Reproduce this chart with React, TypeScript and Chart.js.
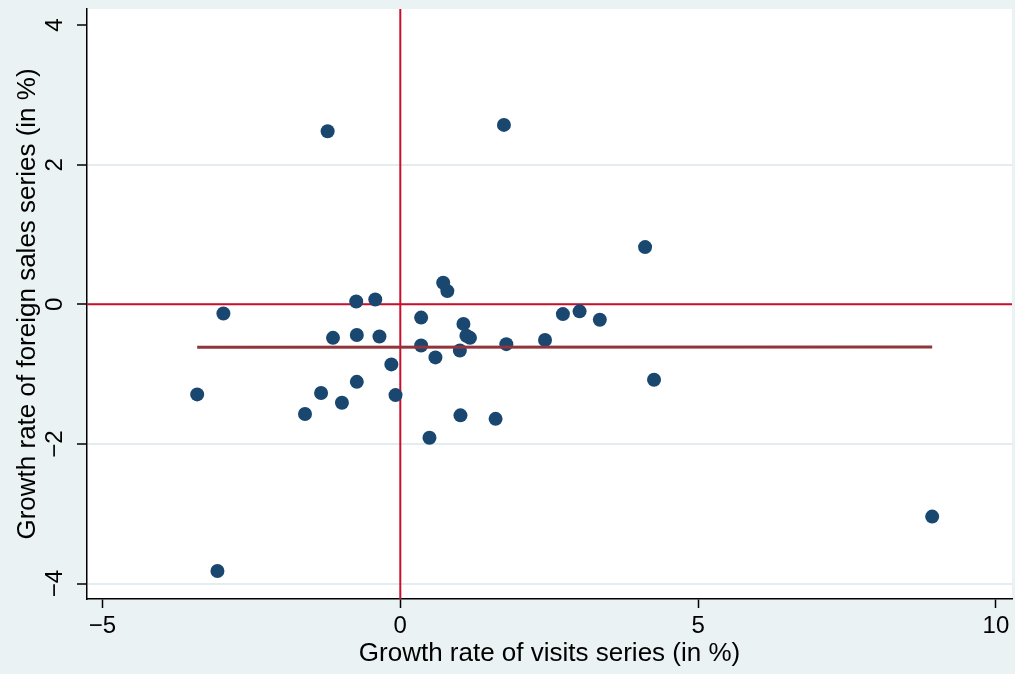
import React, { useEffect, useRef } from 'react';
import { Chart, registerables } from 'chart.js';

Chart.register(...registerables);

// Growth rate of visits series (in %)
const visitsGrowth = [
  -1.22, 1.74, 4.11, -2.97, -3.41, -3.07, 8.93, 4.26, 3.35, 3.01,
  2.73, 2.43, 1.78, 1.60, 1.01, 0.49, 0.72, 0.79, 0.35, 0.35,
  0.59, 1.06, 1.11, 1.17, 1.00, -0.74, -0.42, -0.73, -1.13, -0.35,
  -0.15, -0.08, -0.73, -1.33, -0.98, -1.60,
];
// Growth rate of foreign sales series (in %)
const salesGrowth = [
  2.48, 2.57, 0.82, -0.13, -1.29, -3.82, -3.04, -1.08, -0.22, -0.10,
  -0.14, -0.51, -0.57, -1.64, -1.59, -1.91, 0.31, 0.19, -0.19, -0.59,
  -0.76, -0.28, -0.45, -0.48, -0.66, 0.04, 0.07, -0.44, -0.48, -0.46,
  -0.86, -1.30, -1.11, -1.27, -1.41, -1.57,
];

// Linear fit line endpoints
const fitX = [-3.41, 8.93];
const fitY = [-0.615, -0.61];

const xTicks = [-5, 0, 5, 10];
const yTicks = [-4, -2, 0, 2, 4];
const xRange = [-5.26, 10.27];
const yRange = [-4.22, 4.23];
const xRefLine = 0;
const yRefLine = 0;

const xTitle = 'Growth rate of visits series (in %)';
const yTitle = 'Growth rate of foreign sales series (in %)';

const BG = '#EAF2F3';
const FONT = '"Liberation Sans", Arial, sans-serif';

const fmt = (v: number | string) => {
  const n = Number(v);
  return n < 0 ? '\u2212' + Math.abs(n) : String(n);
};

export default function App() {
  const ref = useRef<HTMLCanvasElement>(null);

  useEffect(() => {
    if (!ref.current) return;
    const bgPlugin = {
      id: 'bgAndRefLines',
      beforeDraw(chart: any) {
        const { ctx, chartArea: a, width, height } = chart;
        ctx.save();
        ctx.fillStyle = BG;
        ctx.fillRect(0, 0, width, height);
        ctx.fillStyle = '#ffffff';
        ctx.fillRect(a.left, a.top, a.right - a.left, a.bottom - a.top);
        ctx.restore();
      },
      beforeDatasetsDraw(chart: any) {
        const { ctx, chartArea: a, scales } = chart;
        const px = scales.x.getPixelForValue(xRefLine);
        const py = scales.y.getPixelForValue(yRefLine);
        ctx.save();
        ctx.strokeStyle = '#C8102E';
        ctx.lineWidth = 2;
        ctx.beginPath();
        ctx.moveTo(px, a.top);
        ctx.lineTo(px, a.bottom);
        ctx.moveTo(a.left, py);
        ctx.lineTo(a.right, py);
        ctx.stroke();
        ctx.restore();
      },
    };

    const points = visitsGrowth.map((x, i) => ({ x, y: salesGrowth[i] }));
    const fit = fitX.map((x, i) => ({ x, y: fitY[i] }));

    const chart = new Chart(ref.current, {
      type: 'scatter',
      data: {
        datasets: [
          {
            type: 'line',
            data: fit,
            borderColor: '#90353B',
            borderWidth: 3,
            pointRadius: 0,
            fill: false,
            order: 0,
          } as any,
          {
            type: 'scatter',
            data: points,
            backgroundColor: '#1A476F',
            borderWidth: 0,
            pointRadius: 7,
            order: 1,
          } as any,
        ],
      },
      options: {
        animation: false,
        responsive: true,
        maintainAspectRatio: false,
        layout: { autoPadding: false, padding: { top: 9, right: 3, left: 0, bottom: 0 } },
        plugins: {
          legend: { display: false },
          tooltip: { enabled: false },
          title: { display: false },
        },
        scales: {
          x: {
            type: 'linear',
            min: xRange[0],
            max: xRange[1],
            afterBuildTicks: (s: any) => {
              s.ticks = xTicks.map((v) => ({ value: v }));
            },
            afterFit: (s: any) => {
              s.height = 75;
              s.paddingLeft = 0;
              s.paddingRight = 0;
            },
            grid: {
              drawOnChartArea: false,
              drawTicks: true,
              tickLength: 9,
              tickColor: '#000',
              tickWidth: 1.5,
            },
            border: { display: true, color: '#000', width: 1.5 },
            ticks: {
              callback: (v: any) => fmt(v),
              font: { family: FONT, size: 24 },
              color: '#000',
              padding: 4,
              maxRotation: 0,
              autoSkip: false,
            },
            title: {
              display: true,
              text: xTitle,
              font: { family: FONT, size: 26 },
              color: '#000',
              padding: { top: 0, bottom: 5 },
            },
          },
          y: {
            type: 'linear',
            min: yRange[0],
            max: yRange[1],
            afterBuildTicks: (s: any) => {
              s.ticks = yTicks.map((v) => ({ value: v }));
            },
            afterFit: (s: any) => {
              s.width = 87;
              s.paddingTop = 0;
              s.paddingBottom = 0;
            },
            grid: {
              color: (c: any) =>
                c.tick && c.tick.value === yTicks[yTicks.length - 1] ? 'rgba(0,0,0,0)' : '#E3ECEE',
              lineWidth: 2,
              drawTicks: true,
              tickLength: 10,
              tickColor: '#000',
              tickWidth: 1.5,
            },
            border: { display: true, color: '#000', width: 1.5 },
            ticks: {
              callback: (v: any) => fmt(v),
              font: { family: FONT, size: 24 },
              color: '#000',
              padding: 8,
              minRotation: 90,
              maxRotation: 90,
              crossAlign: 'center',
              autoSkip: false,
            },
            title: {
              display: true,
              text: yTitle,
              font: { family: FONT, size: 26 },
              color: '#000',
              padding: { top: 12, bottom: 0 },
            },
          },
        },
      },
      plugins: [bgPlugin],
    });

    return () => chart.destroy();
  }, []);

  return (
    <div style={{ position: 'fixed', left: 0, top: 0, width: 1015, height: 674, background: BG }}>
      <canvas ref={ref} />
    </div>
  );
}
